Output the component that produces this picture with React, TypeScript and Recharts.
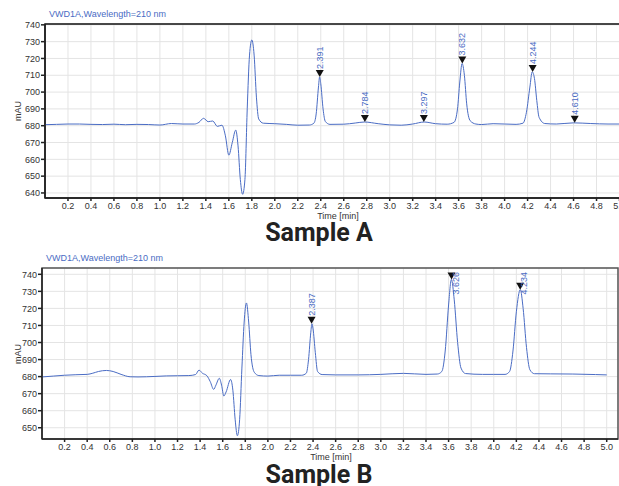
import React from "react";
import { CartesianGrid, ComposedChart, Line, ReferenceArea, Scatter, XAxis, YAxis } from "recharts";

// Sample A trace (time in min, signal in mAU)
const timeA = [
    0.0, 0.1, 0.2, 0.3, 0.4, 0.5, 0.6, 0.7, 0.8, 0.9, 1.0, 1.1, 1.2, 1.3, 1.34, 1.38, 1.42, 1.46, 1.5, 1.54,
    1.57, 1.6, 1.63, 1.66, 1.68, 1.7, 1.72, 1.74, 1.76, 1.78, 1.8, 1.82, 1.84, 1.86, 1.9, 2.0, 2.1, 2.2, 2.3,
    2.34, 2.36, 2.38, 2.39, 2.4, 2.42, 2.44, 2.48, 2.6, 2.7, 2.78, 2.9, 3.0, 3.1, 3.2, 3.3, 3.4, 3.5, 3.56,
    3.59, 3.61, 3.63, 3.65, 3.67, 3.7, 3.75, 3.8, 3.9, 4.0, 4.1, 4.16, 4.19, 4.22, 4.24, 4.26, 4.28, 4.3,
    4.35, 4.45, 4.6, 4.75, 4.9, 5.0, 5.1,
];
const absA = [
    680.6, 680.8, 681.0, 681.0, 680.8, 680.7, 680.9, 680.6, 680.8, 680.7, 680.4, 681.3, 681.0, 681.0, 682.0,
    684.4, 682.4, 682.8, 679.6, 680.3, 674, 662.5, 670, 677.4, 668, 648, 639.2, 648, 690, 722, 731.0, 722, 697,
    684, 681.5, 681.2, 680.8, 680.3, 680.4, 681.5, 687, 703, 709, 705, 690, 682.5, 680.8, 680.9, 681.6, 682.2,
    681.2, 680.5, 680.3, 681.0, 682.2, 681.2, 680.9, 682, 690, 706, 717, 710, 693, 683, 681, 680.7, 681.2, 681.0,
    680.8, 681.5, 688, 703, 712, 708, 695, 685, 681.3, 681.0, 681.7, 681.3, 681.0, 681.0, 680.9,
];
const peakTimeA = [2.391, 2.784, 3.297, 3.632, 4.244, 4.61];
const peakAbsA = [709, 682.2, 682.2, 717, 712, 681.7];
const peakLabelA = ["2.391", "2.784", "3.297", "3.632", "4.244", "4.610"];

// Sample B trace
const timeB = [
    0.0, 0.1, 0.2, 0.3, 0.4, 0.45, 0.5, 0.57, 0.63, 0.7, 0.78, 0.85, 1.0, 1.1, 1.2, 1.3, 1.36, 1.39, 1.42, 1.46,
    1.49, 1.52, 1.54, 1.57, 1.59, 1.61, 1.63, 1.67, 1.69, 1.71, 1.73, 1.75, 1.77, 1.79, 1.81, 1.83, 1.85, 1.88,
    1.92, 2.0, 2.1, 2.2, 2.3, 2.34, 2.36, 2.38, 2.39, 2.4, 2.42, 2.44, 2.48, 2.6, 2.8, 3.0, 3.2, 3.4, 3.5,
    3.54, 3.57, 3.6, 3.625, 3.65, 3.68, 3.71, 3.75, 3.9, 4.0, 4.1, 4.14, 4.17, 4.2, 4.235, 4.26, 4.29, 4.32,
    4.36, 4.5, 4.7, 4.9, 5.0,
];
const absB = [
    679.8, 680.3, 680.8, 681.1, 681.3, 682.0, 683.0, 683.6, 683.0, 681.3, 679.9, 679.8, 680.1, 680.4, 680.5,
    680.6, 681.2, 683.8, 682.0, 680.5, 677, 672.5, 675, 679.0, 675, 668.6, 671, 678.3, 672, 655, 645.3, 655,
    685, 712, 723.2, 712, 693, 682.5, 680.6, 680.3, 680.8, 680.8, 680.8, 682, 690, 706, 711, 708, 694, 683,
    681.2, 681.0, 681.0, 681.3, 681.9, 681.3, 681.5, 683, 695, 722, 737, 725, 700, 685, 681.8, 681.3, 681.3,
    681.3, 683, 695, 718, 731, 720, 697, 684, 681.7, 681.6, 681.5, 681.2, 681.0,
];
const peakTimeB = [2.387, 3.626, 4.234];
const peakAbsB = [711, 737, 731];
const peakLabelB = ["2.387", "3.626", "4.234"];

const timeTicks = [
    0.2, 0.4, 0.6, 0.8, 1.0, 1.2, 1.4, 1.6, 1.8, 2.0, 2.2, 2.4, 2.6, 2.8, 3.0, 3.2, 3.4, 3.6, 3.8, 4.0, 4.2, 4.4,
    4.6, 4.8, 5.0,
];
const ticksA = [640, 650, 660, 670, 680, 690, 700, 710, 720, 730, 740];
const ticksB = [650, 660, 670, 680, 690, 700, 710, 720, 730, 740];

const BLUE = "#4a6cc4";
const tickStyle = { fontSize: 9, fill: "#333", fontFamily: "Liberation Sans, Arial, sans-serif" };

// peak marker: black triangle on the apex plus the retention time written upward
const PeakMark = (props: any) => {
    const { cx, cy, payload, plotTop } = props;
    const tooHigh = cy - 8 - 24 < plotTop;
    return (
        <g>
            <polygon points={`${cx - 4},${cy - 7} ${cx + 4},${cy - 7} ${cx},${cy}`} fill="#111" />
            {tooHigh ? (
                <text x={cx + 7} y={plotTop + 4} transform={`rotate(-90 ${cx + 7} ${plotTop + 4})`} textAnchor="end"
                    fontSize={9} fill={BLUE} fontFamily="Liberation Sans, Arial, sans-serif">
                    {payload.label}
                </text>
            ) : (
                <text x={cx + 3} y={cy - 8} transform={`rotate(-90 ${cx + 3} ${cy - 8})`} textAnchor="start"
                    fontSize={9} fill={BLUE} fontFamily="Liberation Sans, Arial, sans-serif">
                    {payload.label}
                </text>
            )}
        </g>
    );
};

interface TraceProps {
    times: number[];
    values: number[];
    peakTimes: number[];
    peakValues: number[];
    peakLabels: string[];
    yDomain: [number, number];
    yTicks: number[];
    width: number;
    height: number;
    rightMargin: number;
    yAxisWidth: number;
    borderColor: string;
}

function Trace({ times, values, peakTimes, peakValues, peakLabels, yDomain, yTicks, width, height, rightMargin, yAxisWidth, borderColor }: TraceProps) {
    const data = times.map((t, i) => ({ t, v: values[i] }));
    const peaks = peakTimes.map((t, i) => ({ t, v: peakValues[i], label: peakLabels[i] }));
    const plotTop = 24;
    return (
        <ComposedChart width={width} height={height} data={data} margin={{ top: plotTop, right: rightMargin, bottom: 0, left: 0 }}>
            <CartesianGrid stroke="#e4e4e4" strokeWidth={1} />
            <XAxis dataKey="t" type="number" domain={[0, 5.1]} ticks={timeTicks} allowDataOverflow
                tickFormatter={(v: number) => v.toFixed(1)} tick={tickStyle} tickSize={3} tickMargin={2}
                stroke="#222" strokeWidth={1.5} height={32} interval={0} />
            <YAxis type="number" domain={yDomain} ticks={yTicks} allowDataOverflow width={yAxisWidth}
                tick={tickStyle} tickSize={4} tickMargin={1} stroke="#222" strokeWidth={1.5} interval={0} />
            <ReferenceArea x1={0} x2={5.1} y1={yDomain[0]} y2={yDomain[1]} fill="none" fillOpacity={0}
                stroke={borderColor} strokeWidth={1.5} />
            <Line dataKey="v" type="monotone" stroke={BLUE} strokeWidth={1} dot={false} isAnimationActive={false} />
            <Scatter data={peaks} dataKey="v" isAnimationActive={false}
                shape={(p: any) => <PeakMark {...p} plotTop={plotTop} />} />
        </ComposedChart>
    );
}

const text = (extra: React.CSSProperties): React.CSSProperties => ({
    position: "absolute",
    fontFamily: "Liberation Sans, Arial, sans-serif",
    whiteSpace: "nowrap",
    lineHeight: 1,
    ...extra,
});

export default function App() {
    return (
        <div style={{ position: "absolute", left: 0, top: 0, width: 619, height: 486, overflow: "hidden", background: "#fff" }}>
            {/* Sample A */}
            <div style={{ position: "absolute", left: 0, top: 0 }}>
                <Trace times={timeA} values={absA} peakTimes={peakTimeA} peakValues={peakAbsA} peakLabels={peakLabelA}
                    yDomain={[637, 740.5]} yTicks={ticksA} width={700} height={230} rightMargin={69} yAxisWidth={45}
                    borderColor="#111" />
            </div>
            <div style={text({ left: 49, top: 10, fontSize: 9, color: BLUE })}>VWD1A,Wavelength=210 nm</div>
            <div style={text({ left: 18, top: 111, fontSize: 9, color: "#333", transform: "translate(-50%, -50%) rotate(-90deg)" })}>mAU</div>
            <div style={text({ left: 338, top: 212, fontSize: 9, color: "#333", transform: "translateX(-50%)" })}>Time [min]</div>
            <div style={text({ left: 319, top: 220, fontSize: 25, fontWeight: 700, color: "#222", fontFamily: "Roboto, sans-serif", transform: "translateX(-50%)" })}>Sample A</div>

            {/* Sample B */}
            <div style={{ position: "absolute", left: 0, top: 244 }}>
                <Trace times={timeB} values={absB} peakTimes={peakTimeB} peakValues={peakAbsB} peakLabels={peakLabelB}
                    yDomain={[643.4, 743.7]} yTicks={ticksB} width={619} height={227} rightMargin={1} yAxisWidth={42}
                    borderColor="#555" />
            </div>
            <div style={text({ left: 46, top: 254, fontSize: 9, color: BLUE })}>VWD1A,Wavelength=210 nm</div>
            <div style={text({ left: 18, top: 354, fontSize: 9, color: "#333", transform: "translate(-50%, -50%) rotate(-90deg)" })}>mAU</div>
            <div style={text({ left: 331, top: 453, fontSize: 9, color: "#333", transform: "translateX(-50%)" })}>Time [min]</div>
            <div style={text({ left: 319, top: 462, fontSize: 25, fontWeight: 700, color: "#222", fontFamily: "Roboto, sans-serif", transform: "translateX(-50%)" })}>Sample B</div>
        </div>
    );
}
